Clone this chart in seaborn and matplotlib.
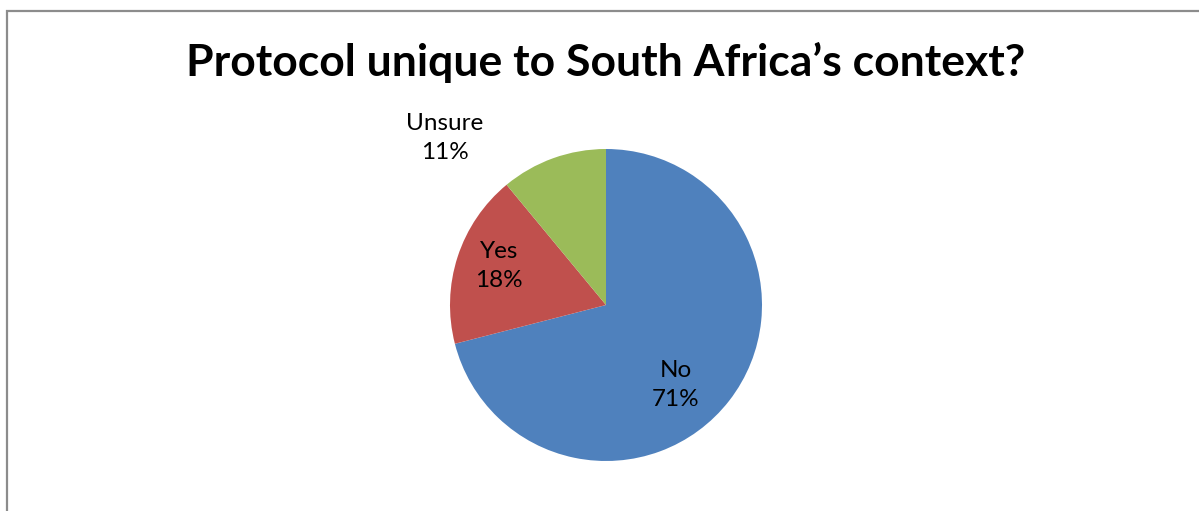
import matplotlib.pyplot as plt
import matplotlib.patches as mpatches
import numpy as np
import seaborn as sns

labels = ["No", "Yes", "Unsure"]
shares = [71, 18, 11]
colors = ["#4F81BD", "#C0504D", "#9BBB59"]

# label positions as (distance from centre in radii, angle in degrees)
label_pos = [(0.68, -49), (0.73, 160), (1.49, 134)]

sns.set_theme(style="white")
plt.rcParams["font.family"] = ["Lato", "DejaVu Sans"]
plt.rcParams["text.color"] = "black"

W, H = 1199, 511
fig = plt.figure(figsize=(W / 100, H / 100), dpi=100)

# chart frame (runs off the right and bottom edges)
fig.patches.append(mpatches.Rectangle(
    (6.5 / W, -0.1), 1.2, (H - 10.5) / H + 0.1,
    transform=fig.transFigure, fill=False, edgecolor="#8C8C8C", linewidth=1.6))

cx, cy, r = 606, H - 305, 156
ax = fig.add_axes([(cx - r) / W, (cy - r) / H, 2 * r / W, 2 * r / H])
ax.pie(shares, colors=colors, startangle=90, counterclock=False,
       radius=1, wedgeprops=dict(linewidth=0))
ax.set_xlim(-1, 1)
ax.set_ylim(-1, 1)
ax.set_aspect("equal")
ax.axis("off")

for lab, val, (d, ang) in zip(labels, shares, label_pos):
    a = np.deg2rad(ang)
    ax.text(d * np.cos(a), d * np.sin(a), f"{lab}\n{val}%",
            ha="center", va="center", fontsize=17.5, linespacing=1.5,
            color="black", clip_on=False)

fig.text(606 / W, 1 - 62 / H, "Protocol unique to South Africa\u2019s context?",
         ha="center", va="center", fontsize=32, fontweight="bold", color="black")

fig.savefig("out.png", dpi=100)
